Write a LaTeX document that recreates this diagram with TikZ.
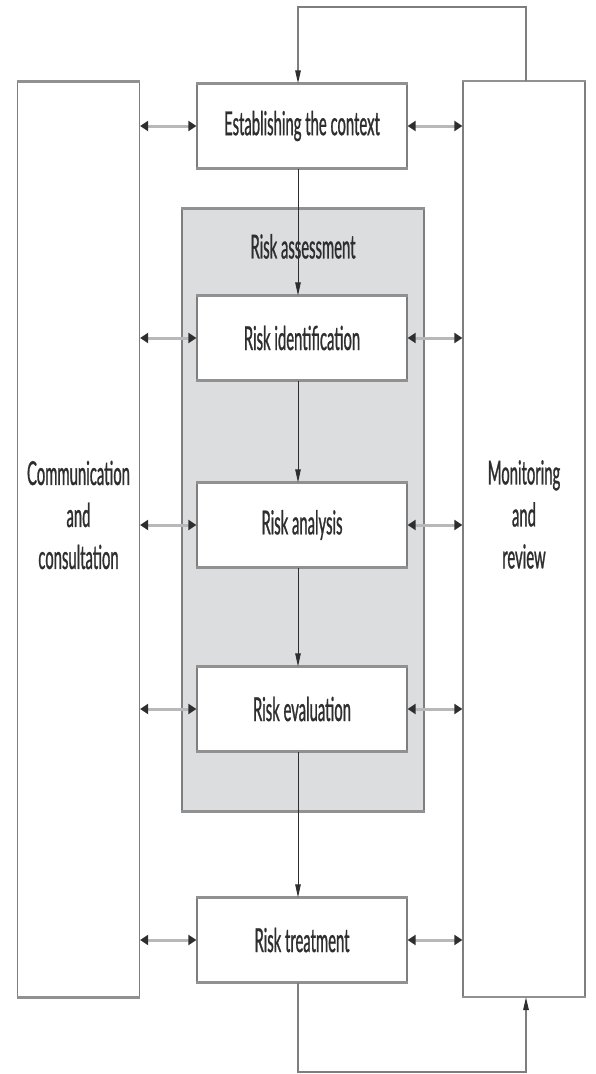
\documentclass[tikz,border=0pt]{standalone}
\usepackage{fontspec}
\newfontfamily\labelfont[FakeStretch=0.45,FakeBold=0.8]{Lato}
\usetikzlibrary{arrows.meta,calc}
\definecolor{edge}{HTML}{7E7E7E}
\definecolor{fillgray}{HTML}{DCDDDF}
\definecolor{ink}{HTML}{2E2E2E}
\definecolor{shaft}{HTML}{B8B8B8}
\tikzset{
  lbl/.style={font=\labelfont\fontsize{33}{42}\selectfont, text=ink, align=center},
  tbedge/.style={append after command={
      (\tikzlastnode.north west) edge[draw=edge!85, line width=2.6pt] (\tikzlastnode.north east)
      (\tikzlastnode.south west) edge[draw=edge!85, line width=2.6pt] (\tikzlastnode.south east)}},
  stepbox/.style={draw=edge, line width=1.2pt, fill=white, minimum width=210pt,
      minimum height=84pt, inner sep=0pt, lbl, tbedge},
  sidebox/.style={draw=edge, line width=1.2pt, fill=white, minimum width=122pt,
      minimum height=915pt, inner sep=0pt, tbedge},
  assessbox/.style={draw=edge, line width=1.2pt, fill=fillgray, minimum width=242pt,
      minimum height=602pt, inner sep=0pt, tbedge},
  flow/.style={draw=ink, line width=0.8pt, -{Triangle[length=13pt,width=5.5pt,color=ink]}},
  loop/.style={draw=edge, line width=1.3pt, -{Triangle[length=13pt,width=5.5pt,color=ink]}},
  biarrow/.style={draw=shaft, line width=3pt,
      {Triangle[length=8pt,width=10pt,color=ink]}-{Triangle[length=8pt,width=10pt,color=ink]}},
}
\begin{document}
\begin{tikzpicture}[x=1pt,y=-1pt]
\useasboundingbox (0,0) rectangle (595,1074);
% axis of the flow
\coordinate (axis) at (298,0);
% risk assessment region
\node[assessbox, label={[lbl, anchor=center, yshift=-38pt]north:Risk assessment}]
  (assess) at (303,510) {};
% side boxes
\node[sidebox, label={[lbl, anchor=center, yshift=24.5pt]center:Communication\\and\\consultation}]
  (comm) at (78.5,539.5) {};
\node[sidebox, label={[lbl, anchor=center, yshift=24.5pt]center:Monitoring\\and\\review}]
  (mon) at (524,539) {};
% process steps
\node[stepbox] (ctx)   at (302,126) {Establishing the context};
\node[stepbox] (iden)  at (302,338) {Risk identification};
\node[stepbox] (anal)  at (302,525) {Risk analysis};
\node[stepbox] (eval)  at (302,709) {Risk evaluation};
\node[stepbox] (treat) at (302,940) {Risk treatment};
% loop corners
\coordinate (topy) at (0,7);
\coordinate (boty) at (0,1072);
\coordinate (loopx) at (526,0);
% main flow
\draw[flow] (ctx.south -| axis) -- (iden.north -| axis);
\draw[flow] (iden.south -| axis) -- (anal.north -| axis);
\draw[flow] (anal.south -| axis) -- (eval.north -| axis);
\draw[flow] (eval.south -| axis) -- (treat.north -| axis);
% feedback loops
\draw[loop] (mon.north -| loopx) -- (loopx |- topy) -- (axis |- topy) -- (ctx.north -| axis);
\draw[loop] (treat.south -| axis) -- (axis |- boty) -- (loopx |- boty) -- (mon.south -| loopx);
% two-way links
\foreach \n in {ctx,iden,anal,eval,treat}{
  \draw[biarrow] (comm.east |- \n) -- (\n.west);
  \draw[biarrow] (\n.east) -- (mon.west |- \n);
}
\end{tikzpicture}
\end{document}
